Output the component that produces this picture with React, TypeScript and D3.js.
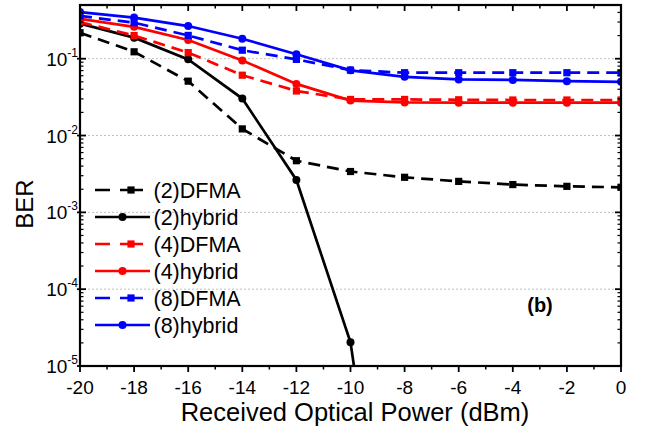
import React from "react";
import * as d3 from "d3";

const xValues = [-20, -18, -16, -14, -12, -10, -8, -6, -4, -2, 0];
const dfma2 = [0.218, 0.123, 0.051, 0.0122, 0.0047, 0.0034, 0.00286, 0.00253, 0.0023, 0.00218, 0.00212];
const hybrid2X = [-20, -18, -16, -14, -12, -10, -8];
const hybrid2 = [0.286, 0.188, 0.098, 0.0303, 0.00264, 2.04e-5, 3e-10];
const dfma4 = [0.3, 0.2, 0.12, 0.061, 0.038, 0.0295, 0.0295, 0.0292, 0.029, 0.029, 0.029];
const hybrid4 = [0.33, 0.26, 0.175, 0.095, 0.047, 0.0285, 0.027, 0.0268, 0.0268, 0.0268, 0.0268];
const dfma8 = [0.36, 0.294, 0.201, 0.129, 0.098, 0.071, 0.0657, 0.0657, 0.0657, 0.0657, 0.0657];
const hybrid8 = [0.405, 0.343, 0.266, 0.182, 0.114, 0.0705, 0.058, 0.0537, 0.053, 0.051, 0.05];
const xTicks = [-20, -18, -16, -14, -12, -10, -8, -6, -4, -2, 0];
const yTickExps = [-5, -4, -3, -2, -1];

const series = [
  { name: "(2)DFMA", xs: xValues, ys: dfma2, color: "#000000", dashed: true, marker: "square" },
  { name: "(2)hybrid", xs: hybrid2X, ys: hybrid2, color: "#000000", dashed: false, marker: "circle" },
  { name: "(4)DFMA", xs: xValues, ys: dfma4, color: "#FF0000", dashed: true, marker: "square" },
  { name: "(4)hybrid", xs: xValues, ys: hybrid4, color: "#FF0000", dashed: false, marker: "circle" },
  { name: "(8)DFMA", xs: xValues, ys: dfma8, color: "#0000FF", dashed: true, marker: "square" },
  { name: "(8)hybrid", xs: xValues, ys: hybrid8, color: "#0000FF", dashed: false, marker: "circle" },
];

const W = 649, H = 430;
const L = 80, R = 621, T = 5, B = 366;
const FONT = "Arial, 'Liberation Sans', sans-serif";

export default function App() {
  const x = d3.scaleLinear().domain([-20, 0]).range([L, R]);
  const y = d3.scaleLog().domain([1e-5, 0.5]).range([B, T]);

  const minorY: number[] = [];
  for (let e = -5; e <= -1; e++) {
    for (let m = 2; m <= 9; m++) {
      const v = m * Math.pow(10, e);
      if (v <= 0.5) minorY.push(v);
    }
  }
  const minorX = d3.range(-19, 0, 2);

  const line = d3.line<[number, number]>().x((d) => x(d[0])).y((d) => y(d[1]));

  const mark = (s: any, cx: number, cy: number, key: string) =>
    s.marker === "square" ? (
      <rect key={key} x={cx - 3.6} y={cy - 3.6} width={7.2} height={7.2} fill={s.color} />
    ) : (
      <circle key={key} cx={cx} cy={cy} r={4} fill={s.color} />
    );

  const legendX0 = 95, legendX1 = 150, legendY0 = 190, legendDy = 27;

  return (
    <svg width={W} height={H} style={{ display: "block", position: "absolute", left: 0, top: 0 }} fontFamily={FONT}>
      <defs>
        <clipPath id="plotclip">
          <rect x={L} y={T} width={R - L} height={B - T} />
        </clipPath>
      </defs>
      <rect width={W} height={H} fill="#fff" />
      {/* grid */}
      {yTickExps.slice(1).map((e) => (
        <line key={"g" + e} x1={L} x2={R} y1={y(Math.pow(10, e))} y2={y(Math.pow(10, e))}
          stroke="#b0b0b0" strokeWidth={0.8} strokeDasharray="2,2" />
      ))}
      {/* series */}
      <g clipPath="url(#plotclip)">
        {series.map((s) => {
          const pts: [number, number][] = s.xs.map((xv, i) => [xv, s.ys[i]]);
          return (
            <g key={s.name}>
              <path d={line(pts) || ""} fill="none" stroke={s.color} strokeWidth={2.7}
                strokeDasharray={s.dashed ? "12,7" : undefined} />
              {pts.map((p, i) => mark(s, x(p[0]), y(p[1]), s.name + i))}
            </g>
          );
        })}
      </g>
      {/* frame */}
      <rect x={L} y={T} width={R - L} height={B - T} fill="none" stroke="#000" strokeWidth={2.2} />
      {/* x ticks */}
      {xTicks.map((t) => (
        <g key={"xt" + t}>
          <line x1={x(t)} x2={x(t)} y1={B} y2={B + 6} stroke="#000" strokeWidth={1.8} />
          <line x1={x(t)} x2={x(t)} y1={T} y2={T + 6} stroke="#000" strokeWidth={1.8} />
          <text x={x(t)} y={394} textAnchor="middle" fontSize={19} fill="#000">{t}</text>
        </g>
      ))}
      {minorX.map((t) => (
        <g key={"xm" + t}>
          <line x1={x(t)} x2={x(t)} y1={B} y2={B + 3.5} stroke="#000" strokeWidth={1.5} />
          <line x1={x(t)} x2={x(t)} y1={T} y2={T + 3.5} stroke="#000" strokeWidth={1.5} />
        </g>
      ))}
      {/* y ticks */}
      {yTickExps.map((e) => {
        const yy = y(Math.pow(10, e));
        return (
          <g key={"yt" + e}>
            <line x1={L - 3} x2={L + 6} y1={yy} y2={yy} stroke="#000" strokeWidth={1.8} />
            <line x1={R - 6} x2={R} y1={yy} y2={yy} stroke="#000" strokeWidth={1.8} />
            <text x={L - 2} y={yy + 7} textAnchor="end" fontSize={19} fill="#000">
              10<tspan dy={-9} fontSize={12}>{e}</tspan>
            </text>
          </g>
        );
      })}
      {minorY.map((v, i) => (
        <g key={"ym" + i}>
          <line x1={L} x2={L + 3.5} y1={y(v)} y2={y(v)} stroke="#000" strokeWidth={1.2} />
          <line x1={R - 3.5} x2={R} y1={y(v)} y2={y(v)} stroke="#000" strokeWidth={1.2} />
        </g>
      ))}
      {/* axis titles */}
      <text x={355} y={421} textAnchor="middle" fontSize={25.5} fill="#000">Received Optical Power (dBm)</text>
      <text transform={`translate(33,204) rotate(-90)`} textAnchor="middle" fontSize={24} fill="#000">BER</text>
      {/* legend */}
      {series.map((s, i) => {
        const ly = legendY0 + i * legendDy;
        return (
          <g key={"lg" + s.name}>
            <line x1={legendX0} x2={legendX1} y1={ly} y2={ly} stroke={s.color} strokeWidth={2.7}
              strokeDasharray={s.dashed ? "15,10,23,100" : undefined} />
            {mark(s, s.dashed ? 131 : (legendX0 + legendX1) / 2, ly, "lm" + i)}
            <text x={153.5} y={ly + 8} fontSize={21.5} fill="#000">{s.name}</text>
          </g>
        );
      })}
      <text x={540} y={312} textAnchor="middle" fontSize={20} fontWeight="bold" fill="#000">(b)</text>
    </svg>
  );
}
